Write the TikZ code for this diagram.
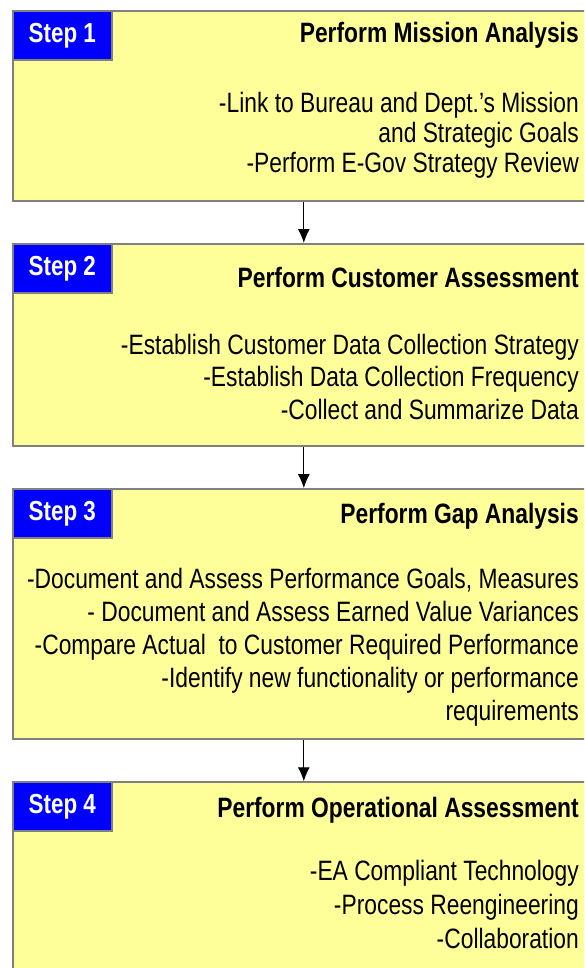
\documentclass[tikz,border=0pt]{standalone}
\usepackage{fontspec}
\setmainfont[FakeStretch=0.815]{Liberation Sans}
\usetikzlibrary{arrows.meta,positioning}
\definecolor{boxyellow}{HTML}{FFFF99}
\definecolor{boxgray}{HTML}{808080}
\definecolor{tagblue}{HTML}{0000FF}
\tikzset{
  stepbox/.style = {draw=boxgray, line width=1.6pt, fill=boxyellow, rectangle,
                    anchor=north west, minimum width=582pt},
  tag/.style     = {draw=boxgray, line width=1.6pt, fill=tagblue, rectangle,
                    anchor=north west, minimum width=99pt, minimum height=49pt,
                    text=white, font=\fontsize{27.5}{32}\selectfont\bfseries},
  title/.style   = {anchor=base east, inner sep=0pt,
                    font=\fontsize{28}{32}\selectfont\bfseries},
  body/.style    = {anchor=north east, inner sep=0pt, align=right,
                    font=\fontsize{28}{#1}\selectfont},
  body/.default  = 32pt
}

\begin{document}
\begin{tikzpicture}[x=1pt, y=-1pt, >={Latex[length=14pt,width=12pt]}]
\useasboundingbox (0,0) rectangle (584,968);
\clip (0,0) rectangle (584,968);

% the four boxes, one below the other
\node[stepbox, minimum height=190pt] (b1) at (12,10) {};
\node[stepbox, minimum height=202pt, below=41.5pt of b1] (b2) {};
\node[stepbox, minimum height=250pt, below=41.5pt of b2] (b3) {};
\node[stepbox, minimum height=200pt, below=41.5pt of b3] (b4) {};

% step labels in the upper left corners
\foreach \i in {1,...,4}
  \node[tag] (t\i) at (b\i.north west) {Step \i};

%Step 1
\node[title] (h1) at (579,43) {Perform Mission Analysis};
\node[body=30pt] (d1) at (579,92) {-Link to Bureau and Dept.’s Mission\\
  and Strategic Goals\\-Perform E-Gov Strategy Review};

%Step 2
\node[title] (h2) at (579,287) {Perform Customer Assessment};
\node[body=32.5pt] (d2) at (579,334) {-Establish Customer Data Collection Strategy\\
  -Establish Data Collection Frequency\\-Collect and Summarize Data};

%Step 3
\node[title] (h3) at (579,523) {Perform Gap Analysis};
\node[body=33pt] (d3) at (579,568) {-Document and Assess Performance Goals, Measures\\
  - Document and Assess Earned Value Variances\\
  -Compare Actual\ \ to Customer Required Performance\\
  -Identify new functionality or performance\\requirements};

%Step 4
\node[title] (h4) at (579,817) {Perform Operational Assessment};
\node[body=34pt] (d4) at (579,860) {-EA Compliant Technology\\
  -Process Reengineering\\-Collaboration};

% arrows from each box to the next one
\foreach \i/\j in {1/2,2/3,3/4}
  \draw[->, line width=1.3pt] (b\i.south) -- (b\j.north);
\end{tikzpicture}
\end{document}
